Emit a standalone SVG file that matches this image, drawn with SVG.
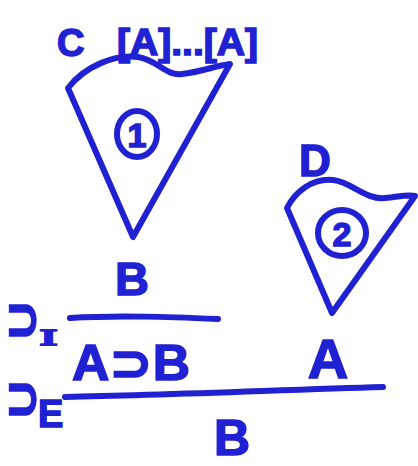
<svg xmlns="http://www.w3.org/2000/svg" width="418" height="466" viewBox="0 0 418 466">
<style>
.ink{fill:none;stroke:#2121d4;stroke-width:6;stroke-linecap:round;stroke-linejoin:round}
.t{fill:#2121d4;stroke:#2121d4;stroke-width:1.5;font-family:"Liberation Sans","DejaVu Sans",sans-serif;font-weight:bold}
.s{fill:#2121d4;stroke:#2121d4;stroke-width:1;font-family:"DejaVu Sans",sans-serif;font-weight:bold}
</style>
<rect width="418" height="466" fill="#ffffff"/>
<g id="tree1">
<path class="ink" d="M68,88 C85,66 115,54 138,57 C158,60 165,76 182,74 C200,72 215,66 230,64 L133,237 Z"/>
<ellipse class="ink" cx="137" cy="134" rx="20" ry="23"/>
<text class="t" x="137" y="147" font-size="34" text-anchor="middle">1</text>
<text class="t" x="57" y="56" font-size="38">C</text>
<text class="t" x="117" y="55" font-size="36" textLength="141" lengthAdjust="spacingAndGlyphs">[A]...[A]</text>
</g>
<g id="tree2">
<path class="ink" d="M287,208 C295,192 312,178 333,180 C352,182 365,200 385,198 C398,197 408,194 415,196 L332,313 Z"/>
<ellipse class="ink" cx="342" cy="233" rx="24" ry="23"/>
<text class="t" x="342" y="246" font-size="34" text-anchor="middle">2</text>
<text class="t" x="299" y="176" font-size="44">D</text>
</g>
<g id="proof">
<text class="t" x="132" y="295" font-size="47" text-anchor="middle">B</text>
<text class="s" transform="translate(5,340) scale(1,1.5)" font-size="42">⊃</text>
<text x="40" y="345" font-size="24" font-family="Liberation Serif" fill="#2121d4" stroke="#2121d4" stroke-width="2" textLength="17" lengthAdjust="spacingAndGlyphs">I</text>
<text class="t" x="72" y="380" font-size="50" textLength="118" lengthAdjust="spacingAndGlyphs">A<tspan font-family="DejaVu Sans">⊃</tspan>B</text>
<text class="t" x="328" y="378" font-size="56" text-anchor="middle">A</text>
<text class="s" transform="translate(5,419) scale(1,1.5)" font-size="42">⊃</text>
<text class="t" x="38" y="427" font-size="38">E</text>
<text class="t" x="232" y="455" font-size="50" text-anchor="middle">B</text>
</g>
<g id="connectors">
<path class="ink" stroke-width="7" d="M70,318 C120,315 170,317 218,319"/>
<path class="ink" stroke-width="7" d="M65,397 C170,395 280,390 383,387"/>
</g>
</svg>
